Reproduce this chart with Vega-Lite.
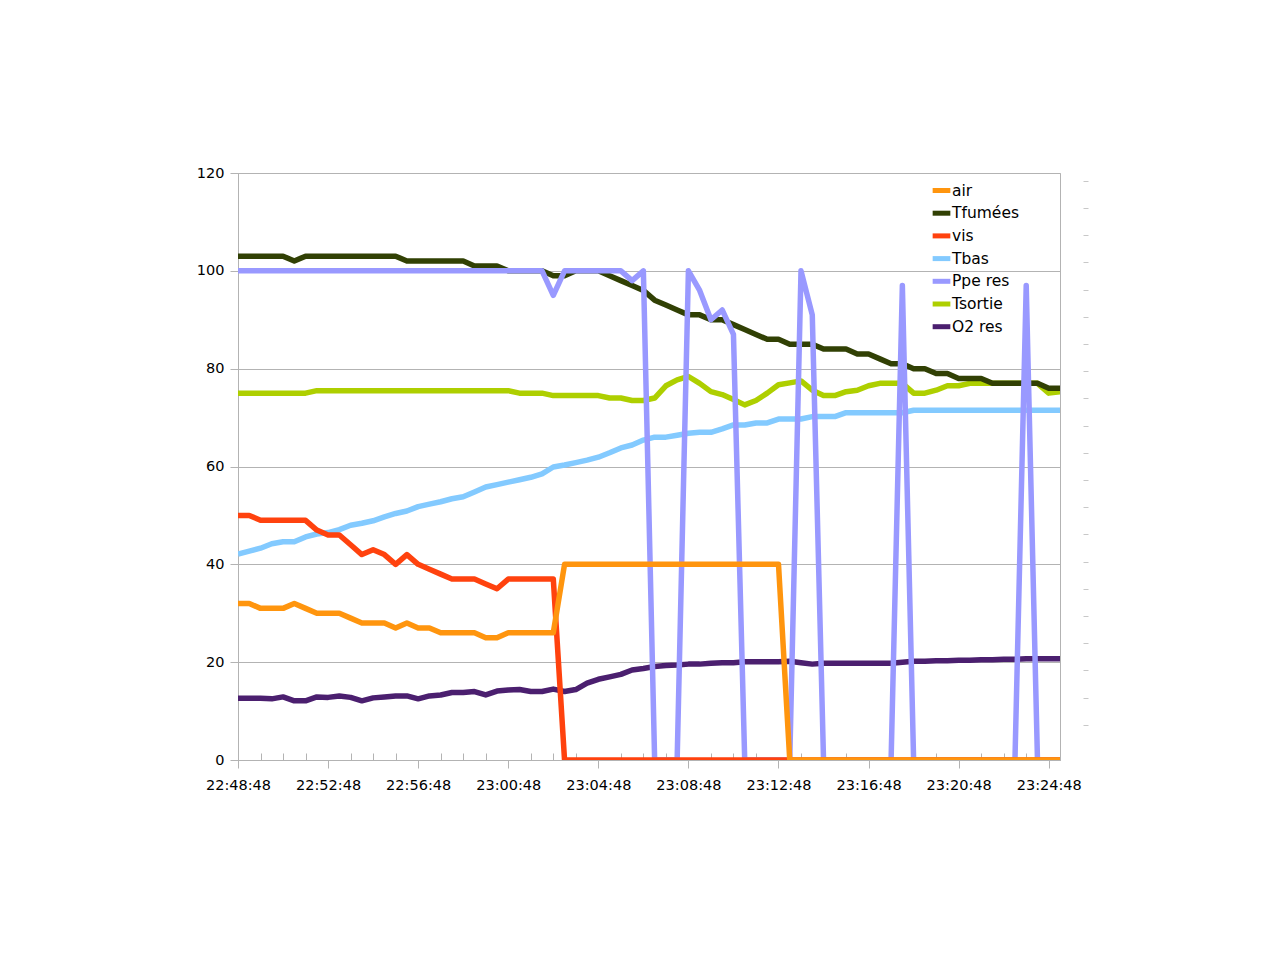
{
  "$schema": "https://vega.github.io/schema/vega-lite/v6.json",
  "width": 822,
  "height": 587,
  "autosize": {"type": "none"},
  "padding": {"left": 238, "top": 173, "right": 219, "bottom": 200},
  "background": "white",
  "config": {"view": {"stroke": "#b3b3b3", "strokeWidth": 1}, "font": "DejaVu Sans"},
  "data": {"values": [
    {"t": "2020-01-01T22:48:48", "air": 32, "Tfumées": 103, "vis": 50, "Tbas": 42.1, "Ppe res": 100, "Tsortie": 75, "O2 res": 12.6},
    {"t": "2020-01-01T22:49:18", "air": 32, "Tfumées": 103, "vis": 50, "Tbas": 42.7, "Ppe res": 100, "Tsortie": 75, "O2 res": 12.6},
    {"t": "2020-01-01T22:49:48", "air": 31, "Tfumées": 103, "vis": 49, "Tbas": 43.3, "Ppe res": 100, "Tsortie": 75, "O2 res": 12.6},
    {"t": "2020-01-01T22:50:18", "air": 31, "Tfumées": 103, "vis": 49, "Tbas": 44.2, "Ppe res": 100, "Tsortie": 75, "O2 res": 12.5},
    {"t": "2020-01-01T22:50:48", "air": 31, "Tfumées": 103, "vis": 49, "Tbas": 44.6, "Ppe res": 100, "Tsortie": 75, "O2 res": 12.9},
    {"t": "2020-01-01T22:51:18", "air": 32, "Tfumées": 102, "vis": 49, "Tbas": 44.6, "Ppe res": 100, "Tsortie": 75, "O2 res": 12.1},
    {"t": "2020-01-01T22:51:48", "air": 31, "Tfumées": 103, "vis": 49, "Tbas": 45.6, "Ppe res": 100, "Tsortie": 75, "O2 res": 12.1},
    {"t": "2020-01-01T22:52:18", "air": 30, "Tfumées": 103, "vis": 47, "Tbas": 46.2, "Ppe res": 100, "Tsortie": 75.5, "O2 res": 12.9},
    {"t": "2020-01-01T22:52:48", "air": 30, "Tfumées": 103, "vis": 46, "Tbas": 46.5, "Ppe res": 100, "Tsortie": 75.5, "O2 res": 12.8},
    {"t": "2020-01-01T22:53:18", "air": 30, "Tfumées": 103, "vis": 46, "Tbas": 47.1, "Ppe res": 100, "Tsortie": 75.5, "O2 res": 13.1},
    {"t": "2020-01-01T22:53:48", "air": 29, "Tfumées": 103, "vis": 44, "Tbas": 48, "Ppe res": 100, "Tsortie": 75.5, "O2 res": 12.8},
    {"t": "2020-01-01T22:54:18", "air": 28, "Tfumées": 103, "vis": 42, "Tbas": 48.4, "Ppe res": 100, "Tsortie": 75.5, "O2 res": 12.1},
    {"t": "2020-01-01T22:54:48", "air": 28, "Tfumées": 103, "vis": 43, "Tbas": 48.9, "Ppe res": 100, "Tsortie": 75.5, "O2 res": 12.7},
    {"t": "2020-01-01T22:55:18", "air": 28, "Tfumées": 103, "vis": 42, "Tbas": 49.7, "Ppe res": 100, "Tsortie": 75.5, "O2 res": 12.9},
    {"t": "2020-01-01T22:55:48", "air": 27, "Tfumées": 103, "vis": 40, "Tbas": 50.4, "Ppe res": 100, "Tsortie": 75.5, "O2 res": 13.1},
    {"t": "2020-01-01T22:56:18", "air": 28, "Tfumées": 102, "vis": 42, "Tbas": 50.9, "Ppe res": 100, "Tsortie": 75.5, "O2 res": 13.1},
    {"t": "2020-01-01T22:56:48", "air": 27, "Tfumées": 102, "vis": 40, "Tbas": 51.8, "Ppe res": 100, "Tsortie": 75.5, "O2 res": 12.5},
    {"t": "2020-01-01T22:57:18", "air": 27, "Tfumées": 102, "vis": 39, "Tbas": 52.3, "Ppe res": 100, "Tsortie": 75.5, "O2 res": 13.1},
    {"t": "2020-01-01T22:57:48", "air": 26, "Tfumées": 102, "vis": 38, "Tbas": 52.8, "Ppe res": 100, "Tsortie": 75.5, "O2 res": 13.3},
    {"t": "2020-01-01T22:58:18", "air": 26, "Tfumées": 102, "vis": 37, "Tbas": 53.4, "Ppe res": 100, "Tsortie": 75.5, "O2 res": 13.8},
    {"t": "2020-01-01T22:58:48", "air": 26, "Tfumées": 102, "vis": 37, "Tbas": 53.8, "Ppe res": 100, "Tsortie": 75.5, "O2 res": 13.8},
    {"t": "2020-01-01T22:59:18", "air": 26, "Tfumées": 101, "vis": 37, "Tbas": 54.8, "Ppe res": 100, "Tsortie": 75.5, "O2 res": 14},
    {"t": "2020-01-01T22:59:48", "air": 25, "Tfumées": 101, "vis": 36, "Tbas": 55.8, "Ppe res": 100, "Tsortie": 75.5, "O2 res": 13.3},
    {"t": "2020-01-01T23:00:18", "air": 25, "Tfumées": 101, "vis": 35, "Tbas": 56.3, "Ppe res": 100, "Tsortie": 75.5, "O2 res": 14.1},
    {"t": "2020-01-01T23:00:48", "air": 26, "Tfumées": 100, "vis": 37, "Tbas": 56.8, "Ppe res": 100, "Tsortie": 75.5, "O2 res": 14.3},
    {"t": "2020-01-01T23:01:18", "air": 26, "Tfumées": 100, "vis": 37, "Tbas": 57.3, "Ppe res": 100, "Tsortie": 75, "O2 res": 14.4},
    {"t": "2020-01-01T23:01:48", "air": 26, "Tfumées": 100, "vis": 37, "Tbas": 57.8, "Ppe res": 100, "Tsortie": 75, "O2 res": 14},
    {"t": "2020-01-01T23:02:18", "air": 26, "Tfumées": 100, "vis": 37, "Tbas": 58.5, "Ppe res": 100, "Tsortie": 75, "O2 res": 14},
    {"t": "2020-01-01T23:02:48", "air": 26, "Tfumées": 99, "vis": 37, "Tbas": 59.9, "Ppe res": 95, "Tsortie": 74.5, "O2 res": 14.5},
    {"t": "2020-01-01T23:03:18", "air": 40, "Tfumées": 99, "vis": 0, "Tbas": 60.3, "Ppe res": 100, "Tsortie": 74.5, "O2 res": 14},
    {"t": "2020-01-01T23:03:48", "air": 40, "Tfumées": 100, "vis": 0, "Tbas": 60.8, "Ppe res": 100, "Tsortie": 74.5, "O2 res": 14.4},
    {"t": "2020-01-01T23:04:18", "air": 40, "Tfumées": 100, "vis": 0, "Tbas": 61.3, "Ppe res": 100, "Tsortie": 74.5, "O2 res": 15.7},
    {"t": "2020-01-01T23:04:48", "air": 40, "Tfumées": 100, "vis": 0, "Tbas": 61.9, "Ppe res": 100, "Tsortie": 74.5, "O2 res": 16.5},
    {"t": "2020-01-01T23:05:18", "air": 40, "Tfumées": 99, "vis": 0, "Tbas": 62.8, "Ppe res": 100, "Tsortie": 74, "O2 res": 17},
    {"t": "2020-01-01T23:05:48", "air": 40, "Tfumées": 98, "vis": 0, "Tbas": 63.8, "Ppe res": 100, "Tsortie": 74, "O2 res": 17.5},
    {"t": "2020-01-01T23:06:18", "air": 40, "Tfumées": 97, "vis": 0, "Tbas": 64.4, "Ppe res": 98, "Tsortie": 73.5, "O2 res": 18.4},
    {"t": "2020-01-01T23:06:48", "air": 40, "Tfumées": 96, "vis": 0, "Tbas": 65.4, "Ppe res": 100, "Tsortie": 73.5, "O2 res": 18.7},
    {"t": "2020-01-01T23:07:18", "air": 40, "Tfumées": 94, "vis": 0, "Tbas": 66, "Ppe res": 0, "Tsortie": 74, "O2 res": 19.1},
    {"t": "2020-01-01T23:07:48", "air": 40, "Tfumées": 93, "vis": 0, "Tbas": 66, "Ppe res": 0, "Tsortie": 76.5, "O2 res": 19.3},
    {"t": "2020-01-01T23:08:18", "air": 40, "Tfumées": 92, "vis": 0, "Tbas": 66.4, "Ppe res": 0, "Tsortie": 77.7, "O2 res": 19.4},
    {"t": "2020-01-01T23:08:48", "air": 40, "Tfumées": 91, "vis": 0, "Tbas": 66.8, "Ppe res": 100, "Tsortie": 78.4, "O2 res": 19.6},
    {"t": "2020-01-01T23:09:18", "air": 40, "Tfumées": 91, "vis": 0, "Tbas": 67, "Ppe res": 96, "Tsortie": 77, "O2 res": 19.6},
    {"t": "2020-01-01T23:09:48", "air": 40, "Tfumées": 90, "vis": 0, "Tbas": 67, "Ppe res": 90, "Tsortie": 75.3, "O2 res": 19.8},
    {"t": "2020-01-01T23:10:18", "air": 40, "Tfumées": 90, "vis": 0, "Tbas": 67.7, "Ppe res": 92, "Tsortie": 74.7, "O2 res": 19.9},
    {"t": "2020-01-01T23:10:48", "air": 40, "Tfumées": 89, "vis": 0, "Tbas": 68.5, "Ppe res": 87, "Tsortie": 73.7, "O2 res": 19.9},
    {"t": "2020-01-01T23:11:18", "air": 40, "Tfumées": 88, "vis": 0, "Tbas": 68.5, "Ppe res": 0, "Tsortie": 72.6, "O2 res": 20.1},
    {"t": "2020-01-01T23:11:48", "air": 40, "Tfumées": 87, "vis": 0, "Tbas": 68.9, "Ppe res": 0, "Tsortie": 73.5, "O2 res": 20.1},
    {"t": "2020-01-01T23:12:18", "air": 40, "Tfumées": 86, "vis": 0, "Tbas": 68.9, "Ppe res": 0, "Tsortie": 75, "O2 res": 20.1},
    {"t": "2020-01-01T23:12:48", "air": 40, "Tfumées": 86, "vis": 0, "Tbas": 69.7, "Ppe res": 0, "Tsortie": 76.7, "O2 res": 20.1},
    {"t": "2020-01-01T23:13:18", "air": 0, "Tfumées": 85, "vis": 0, "Tbas": 69.7, "Ppe res": 0, "Tsortie": 77.1, "O2 res": 20.2},
    {"t": "2020-01-01T23:13:48", "air": 0, "Tfumées": 85, "vis": 0, "Tbas": 69.7, "Ppe res": 100, "Tsortie": 77.5, "O2 res": 19.9},
    {"t": "2020-01-01T23:14:18", "air": 0, "Tfumées": 85, "vis": 0, "Tbas": 70.2, "Ppe res": 91, "Tsortie": 75.6, "O2 res": 19.6},
    {"t": "2020-01-01T23:14:48", "air": 0, "Tfumées": 84, "vis": 0, "Tbas": 70.2, "Ppe res": 0, "Tsortie": 74.5, "O2 res": 19.8},
    {"t": "2020-01-01T23:15:18", "air": 0, "Tfumées": 84, "vis": 0, "Tbas": 70.2, "Ppe res": 0, "Tsortie": 74.5, "O2 res": 19.8},
    {"t": "2020-01-01T23:15:48", "air": 0, "Tfumées": 84, "vis": 0, "Tbas": 71, "Ppe res": 0, "Tsortie": 75.3, "O2 res": 19.8},
    {"t": "2020-01-01T23:16:18", "air": 0, "Tfumées": 83, "vis": 0, "Tbas": 71, "Ppe res": 0, "Tsortie": 75.6, "O2 res": 19.8},
    {"t": "2020-01-01T23:16:48", "air": 0, "Tfumées": 83, "vis": 0, "Tbas": 71, "Ppe res": 0, "Tsortie": 76.5, "O2 res": 19.8},
    {"t": "2020-01-01T23:17:18", "air": 0, "Tfumées": 82, "vis": 0, "Tbas": 71, "Ppe res": 0, "Tsortie": 77, "O2 res": 19.8},
    {"t": "2020-01-01T23:17:48", "air": 0, "Tfumées": 81, "vis": 0, "Tbas": 71, "Ppe res": 0, "Tsortie": 77, "O2 res": 19.8},
    {"t": "2020-01-01T23:18:18", "air": 0, "Tfumées": 81, "vis": 0, "Tbas": 71, "Ppe res": 97, "Tsortie": 77, "O2 res": 20},
    {"t": "2020-01-01T23:18:48", "air": 0, "Tfumées": 80, "vis": 0, "Tbas": 71.5, "Ppe res": 0, "Tsortie": 75, "O2 res": 20.2},
    {"t": "2020-01-01T23:19:18", "air": 0, "Tfumées": 80, "vis": 0, "Tbas": 71.5, "Ppe res": 0, "Tsortie": 75, "O2 res": 20.2},
    {"t": "2020-01-01T23:19:48", "air": 0, "Tfumées": 79, "vis": 0, "Tbas": 71.5, "Ppe res": 0, "Tsortie": 75.6, "O2 res": 20.3},
    {"t": "2020-01-01T23:20:18", "air": 0, "Tfumées": 79, "vis": 0, "Tbas": 71.5, "Ppe res": 0, "Tsortie": 76.5, "O2 res": 20.3},
    {"t": "2020-01-01T23:20:48", "air": 0, "Tfumées": 78, "vis": 0, "Tbas": 71.5, "Ppe res": 0, "Tsortie": 76.5, "O2 res": 20.4},
    {"t": "2020-01-01T23:21:18", "air": 0, "Tfumées": 78, "vis": 0, "Tbas": 71.5, "Ppe res": 0, "Tsortie": 77, "O2 res": 20.4},
    {"t": "2020-01-01T23:21:48", "air": 0, "Tfumées": 78, "vis": 0, "Tbas": 71.5, "Ppe res": 0, "Tsortie": 77, "O2 res": 20.5},
    {"t": "2020-01-01T23:22:18", "air": 0, "Tfumées": 77, "vis": 0, "Tbas": 71.5, "Ppe res": 0, "Tsortie": 77, "O2 res": 20.5},
    {"t": "2020-01-01T23:22:48", "air": 0, "Tfumées": 77, "vis": 0, "Tbas": 71.5, "Ppe res": 0, "Tsortie": 77, "O2 res": 20.6},
    {"t": "2020-01-01T23:23:18", "air": 0, "Tfumées": 77, "vis": 0, "Tbas": 71.5, "Ppe res": 0, "Tsortie": 77, "O2 res": 20.6},
    {"t": "2020-01-01T23:23:48", "air": 0, "Tfumées": 77, "vis": 0, "Tbas": 71.5, "Ppe res": 97, "Tsortie": 77, "O2 res": 20.7},
    {"t": "2020-01-01T23:24:18", "air": 0, "Tfumées": 77, "vis": 0, "Tbas": 71.5, "Ppe res": 0, "Tsortie": 77, "O2 res": 20.7},
    {"t": "2020-01-01T23:24:48", "air": 0, "Tfumées": 76, "vis": 0, "Tbas": 71.5, "Ppe res": 0, "Tsortie": 75, "O2 res": 20.7},
    {"t": "2020-01-01T23:25:18", "air": 0, "Tfumées": 76, "vis": 0, "Tbas": 71.5, "Ppe res": 0, "Tsortie": 75.3, "O2 res": 20.7}
  ]},
  "layer": [
    {
      "transform": [{"fold": ["O2 res", "Tsortie", "Tbas", "Tfumées", "Ppe res", "vis", "air"], "as": ["series", "value"]}],
      "mark": {"type": "line", "strokeWidth": 5.5, "strokeJoin": "round", "strokeCap": "butt", "clip": true},
      "encoding": {
        "x": {
          "field": "t", "type": "temporal",
          "scale": {"domain": [
            {"year": 2020, "month": 1, "date": 1, "hours": 22, "minutes": 48, "seconds": 48},
            {"year": 2020, "month": 1, "date": 1, "hours": 23, "minutes": 25, "seconds": 18}
          ]},
          "axis": {
            "title": null, "grid": false,
            "values": [
              {"year": 2020, "month": 1, "date": 1, "hours": 22, "minutes": 48, "seconds": 48},
              {"year": 2020, "month": 1, "date": 1, "hours": 22, "minutes": 49, "seconds": 48},
              {"year": 2020, "month": 1, "date": 1, "hours": 22, "minutes": 50, "seconds": 48},
              {"year": 2020, "month": 1, "date": 1, "hours": 22, "minutes": 51, "seconds": 48},
              {"year": 2020, "month": 1, "date": 1, "hours": 22, "minutes": 52, "seconds": 48},
              {"year": 2020, "month": 1, "date": 1, "hours": 22, "minutes": 53, "seconds": 48},
              {"year": 2020, "month": 1, "date": 1, "hours": 22, "minutes": 54, "seconds": 48},
              {"year": 2020, "month": 1, "date": 1, "hours": 22, "minutes": 55, "seconds": 48},
              {"year": 2020, "month": 1, "date": 1, "hours": 22, "minutes": 56, "seconds": 48},
              {"year": 2020, "month": 1, "date": 1, "hours": 22, "minutes": 57, "seconds": 48},
              {"year": 2020, "month": 1, "date": 1, "hours": 22, "minutes": 58, "seconds": 48},
              {"year": 2020, "month": 1, "date": 1, "hours": 22, "minutes": 59, "seconds": 48},
              {"year": 2020, "month": 1, "date": 1, "hours": 23, "minutes": 0, "seconds": 48},
              {"year": 2020, "month": 1, "date": 1, "hours": 23, "minutes": 1, "seconds": 48},
              {"year": 2020, "month": 1, "date": 1, "hours": 23, "minutes": 2, "seconds": 48},
              {"year": 2020, "month": 1, "date": 1, "hours": 23, "minutes": 3, "seconds": 48},
              {"year": 2020, "month": 1, "date": 1, "hours": 23, "minutes": 4, "seconds": 48},
              {"year": 2020, "month": 1, "date": 1, "hours": 23, "minutes": 5, "seconds": 48},
              {"year": 2020, "month": 1, "date": 1, "hours": 23, "minutes": 6, "seconds": 48},
              {"year": 2020, "month": 1, "date": 1, "hours": 23, "minutes": 7, "seconds": 48},
              {"year": 2020, "month": 1, "date": 1, "hours": 23, "minutes": 8, "seconds": 48},
              {"year": 2020, "month": 1, "date": 1, "hours": 23, "minutes": 9, "seconds": 48},
              {"year": 2020, "month": 1, "date": 1, "hours": 23, "minutes": 10, "seconds": 48},
              {"year": 2020, "month": 1, "date": 1, "hours": 23, "minutes": 11, "seconds": 48},
              {"year": 2020, "month": 1, "date": 1, "hours": 23, "minutes": 12, "seconds": 48},
              {"year": 2020, "month": 1, "date": 1, "hours": 23, "minutes": 13, "seconds": 48},
              {"year": 2020, "month": 1, "date": 1, "hours": 23, "minutes": 14, "seconds": 48},
              {"year": 2020, "month": 1, "date": 1, "hours": 23, "minutes": 15, "seconds": 48},
              {"year": 2020, "month": 1, "date": 1, "hours": 23, "minutes": 16, "seconds": 48},
              {"year": 2020, "month": 1, "date": 1, "hours": 23, "minutes": 17, "seconds": 48},
              {"year": 2020, "month": 1, "date": 1, "hours": 23, "minutes": 18, "seconds": 48},
              {"year": 2020, "month": 1, "date": 1, "hours": 23, "minutes": 19, "seconds": 48},
              {"year": 2020, "month": 1, "date": 1, "hours": 23, "minutes": 20, "seconds": 48},
              {"year": 2020, "month": 1, "date": 1, "hours": 23, "minutes": 21, "seconds": 48},
              {"year": 2020, "month": 1, "date": 1, "hours": 23, "minutes": 22, "seconds": 48},
              {"year": 2020, "month": 1, "date": 1, "hours": 23, "minutes": 23, "seconds": 48},
              {"year": 2020, "month": 1, "date": 1, "hours": 23, "minutes": 24, "seconds": 48}
            ],
            "labelExpr": "minutes(datum.value) % 4 == 0 ? timeFormat(datum.value, '%H:%M:%S') : ''",
            "tickSize": {"condition": {"test": "minutes(datum.value) % 4 == 0", "value": 8}, "value": -7},
            "tickColor": "#b3b3b3",
            "domainColor": "#b3b3b3",
            "labelPadding": 10,
            "labelFont": "DejaVu Sans",
            "labelFontSize": 14.5,
            "labelColor": "#000000",
            "labelFlush": false,
            "labelOverlap": false
          }
        },
        "y": {
          "field": "value", "type": "quantitative",
          "scale": {"domain": [0, 120], "nice": false},
          "axis": {
            "title": null,
            "values": [0, 20, 40, 60, 80, 100, 120],
            "grid": true,
            "gridColor": "#b3b3b3",
            "domainColor": "#b3b3b3",
            "tickColor": "#b3b3b3",
            "tickSize": 8,
            "labelPadding": 6,
            "labelFont": "DejaVu Sans",
            "labelFontSize": 14.5,
            "labelColor": "#000000"
          }
        },
        "color": {
          "field": "series", "type": "nominal",
          "scale": {
            "domain": ["air", "Tfumées", "vis", "Tbas", "Ppe res", "Tsortie", "O2 res"],
            "range": ["#ff950e", "#314004", "#ff420e", "#83caff", "#9999ff", "#aecf00", "#4b1f6f"]
          },
          "legend": {
            "title": null,
            "orient": "none",
            "legendX": 692,
            "legendY": 6,
            "padding": 0,
            "symbolType": "stroke",
            "symbolSize": 313,
            "symbolStrokeWidth": 5,
            "labelFont": "DejaVu Sans",
            "labelFontSize": 15.5,
            "labelColor": "#000000",
            "labelOffset": -1,
            "rowPadding": 0.7
          }
        }
      }
    },
    {
      "data": {"values": [{"v": 1}]},
      "mark": {"type": "point", "opacity": 0},
      "encoding": {
        "y": {
          "field": "v", "type": "quantitative",
          "scale": {"domain": [-0.294, 21.29], "nice": false, "zero": false},
          "axis": {
            "title": null, "orient": "right", "offset": 23,
            "values": [1, 2, 3, 4, 5, 6, 7, 8, 9, 10, 11, 12, 13, 14, 15, 16, 17, 18, 19, 20, 21],
            "labels": false, "domain": false, "grid": false,
            "tickSize": 5, "tickColor": "#c8c8c8"
          }
        }
      }
    }
  ],
  "resolve": {"scale": {"y": "independent"}, "axis": {"y": "independent"}}
}
